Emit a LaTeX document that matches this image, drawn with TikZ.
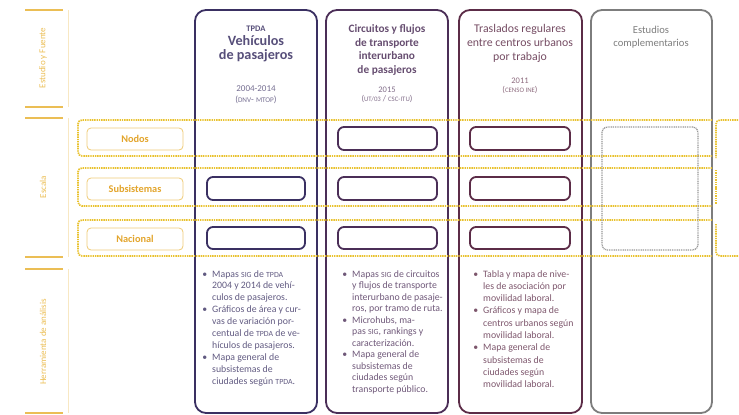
\documentclass[tikz,border=0pt]{standalone}
\usepackage{fontspec}
\setmainfont{Carlito}
\definecolor{goldtxt}{HTML}{E3A52C}
\definecolor{goldlbl}{HTML}{EBBE55}
\definecolor{golddot}{HTML}{E9C22E}
\definecolor{cA}{HTML}{3A3062}
\definecolor{cB}{HTML}{4B2E57}
\definecolor{cC}{HTML}{5C2C47}
\definecolor{cD}{HTML}{7D7D7D}
\newcommand{\bul}{\llap{•\hspace{5pt}}}
\newcommand{\sm}[1]{{\fontsize{0.8em}{12}\selectfont #1}}
\begin{document}
\begin{tikzpicture}[x=1pt,y=-1pt,
  col/.style={draw=#1,line width=1.8pt,rounded corners=11pt},
  inbox/.style={draw=#1,line width=1.8pt,rounded corners=6pt},
  band/.style={draw=golddot,line width=1.7pt,dash pattern=on 1.4pt off 0.9pt,rounded corners=4pt},
  gline/.style={draw=goldlbl,line width=1.4pt},
  vline/.style={draw=goldlbl!35,line width=0.6pt},
  vlbl/.style={rotate=90,text=goldlbl,font=\fontsize{9}{11}\selectfont},
  lbox/.style={draw=goldlbl!80,line width=0.8pt,rounded corners=4pt,fill=white,minimum width=96pt,minimum height=22pt,inner sep=0pt,text=goldtxt,font=\bfseries\fontsize{10.3}{12}\selectfont},
  hd/.style={anchor=base,inner sep=0pt,text=#1},
  yr/.style={anchor=base,inner sep=0pt,text=#1,font=\fontsize{9}{10}\selectfont},
  lst/.style={anchor=north west,inner sep=0pt,align=left,text=#1,font=\fontsize{9.8}{11.9}\selectfont}
]
\useasboundingbox (0,0) rectangle (739,415);
% left labels
\draw[gline] (25,10) -- (63,10);
\draw[gline] (25,107) -- (63,107);
\draw[gline] (25,118) -- (63,118);
\draw[gline] (25,257) -- (63,257);
\draw[gline] (25,269) -- (63,269);
\draw[gline] (25,413) -- (63,413);
\draw[vline] (68,10) -- (68,107);
\draw[vline] (68,118) -- (68,257);
\draw[vline] (68,269) -- (68,413);
\node[vlbl] (lEst) at (43,58) {Estudio y Fuente};
\node[vlbl] (lEsc) at (43,187) {Escala};
\node[vlbl] (lHer) at (43,342) {Herramienta de análisis};
% columns
\draw[col=cA] (195,10) rectangle (317,413);
\draw[col=cB] (326,10) rectangle (448,413);
\draw[col=cC] (459,10) rectangle (582,413);
\draw[col=cD] (591,10) rectangle (712,413);
% bands
\draw[band] (712,120) -- (78,120) -- (78,156) -- (712,156);
\draw[band] (712,168) -- (78,168) -- (78,206) -- (712,206);
\draw[band] (712,220) -- (78,220) -- (78,256) -- (712,256);
\draw[band] (745,120) -- (716,120) -- (716,158);
\draw[band] (716,170) -- (716,204);
\draw[band] (716,224) -- (716,256) -- (745,256);
% scale labels
\node[lbox] (nod) at (135,139) {Nodos};
\node[lbox] (sub) at (135,189) {Subsistemas};
\node[lbox] (nac) at (135,239) {Nacional};
% inner boxes
\draw[inbox=cA] (207,177) rectangle (305,200);
\draw[inbox=cA] (207,227) rectangle (305,249);
\draw[inbox=cB] (338,127) rectangle (437,150);
\draw[inbox=cB] (338,177) rectangle (437,200);
\draw[inbox=cB] (338,227) rectangle (437,249);
\draw[inbox=cC] (470,127) rectangle (570,150);
\draw[inbox=cC] (470,177) rectangle (570,200);
\draw[inbox=cC] (470,227) rectangle (570,249);
\draw[draw=cD!80,line width=1.3pt,dash pattern=on 1pt off 0.8pt,rounded corners=5pt] (602,127) rectangle (698,250);
% headings col1
\node[hd=cA!85,font=\bfseries\fontsize{8.5}{9}\selectfont] (h1a) at (256,31) {TPDA};
\node[hd=cA!85,font=\bfseries\fontsize{14.2}{15}\selectfont] (h1b) at (256,45) {Vehículos};
\node[hd=cA!85,font=\bfseries\fontsize{14.2}{15}\selectfont] (h1c) at (256,59) {de pasajeros};
\node[yr=cA!70] (y1a) at (256,91) {2004-2014};
\node[yr=cA!70] (y1b) at (256,102) {(\sm{DNV}- \sm{MTOP})};
% col2
\node[hd=cB!85,font=\bfseries\fontsize{11.3}{12}\selectfont] (h2a) at (387,32.5) {Circuitos y flujos};
\node[hd=cB!85,font=\bfseries\fontsize{11.3}{12}\selectfont] (h2b) at (387,46.5) {de transporte};
\node[hd=cB!85,font=\bfseries\fontsize{11.3}{12}\selectfont] (h2c) at (387,59.5) {interurbano};
\node[hd=cB!85,font=\bfseries\fontsize{11.3}{12}\selectfont] (h2d) at (387,73) {de pasajeros};
\node[yr=cB!70,font=\fontsize{8.5}{10}\selectfont] (y2a) at (387,92) {2015};
\node[yr=cB!70,font=\fontsize{8.5}{10}\selectfont] (y2b) at (387,101) {(\sm{UT/03} / \sm{CSC-ITU})};
% col3
\node[hd=cC!85,font=\fontsize{11.8}{13}\selectfont] (h3a) at (520,32.5) {Traslados regulares};
\node[hd=cC!85,font=\fontsize{11.8}{13}\selectfont] (h3b) at (520,46.5) {entre centros urbanos};
\node[hd=cC!85,font=\fontsize{11.8}{13}\selectfont] (h3c) at (520,60.5) {por trabajo};
\node[yr=cC!70,font=\fontsize{8.5}{10}\selectfont] (y3a) at (520,83) {2011};
\node[yr=cC!70,font=\fontsize{8.5}{10}\selectfont] (y3b) at (520,92) {(\sm{CENSO INE})};
% col4
\node[hd=cD,font=\fontsize{10.6}{12}\selectfont] (h4a) at (651,33.5) {Estudios};
\node[hd=cD,font=\fontsize{10.6}{12}\selectfont] (h4b) at (651,46.5) {complementarios};
% lists
\node[lst=cA!80] (t1) at (212,270) {\bul Mapas \sm{SIG} de \sm{TPDA}\\
2004 y 2014 de vehí-\\
culos de pasajeros.\\
\bul Gráficos de área y cur-\\
vas de variación por-\\
centual de \sm{TPDA} de ve-\\
hículos de pasajeros.\\
\bul Mapa general de\\
subsistemas de\\
ciudades según \sm{TPDA}.};
\node[lst=cB!80,font=\fontsize{9.8}{11.5}\selectfont] (t2) at (352,270) {\bul Mapas \sm{SIG} de circuitos\\
y flujos de transporte\\
interurbano de pasaje-\\
ros, por tramo de ruta.\\
\bul Microhubs, ma-\\
pas \sm{SIG}, rankings y\\
caracterización.\\
\bul Mapa general de\\
subsistemas de\\
ciudades según\\
transporte público.};
\node[lst=cC!80,font=\fontsize{9.8}{12.3}\selectfont] (t3) at (483,270) {\bul Tabla y mapa de nive-\\
les de asociación por\\
movilidad laboral.\\
\bul Gráficos y mapa de\\
centros urbanos según\\
movilidad laboral.\\
\bul Mapa general de\\
subsistemas de\\
ciudades según\\
movilidad laboral.};
\end{tikzpicture}
\end{document}
